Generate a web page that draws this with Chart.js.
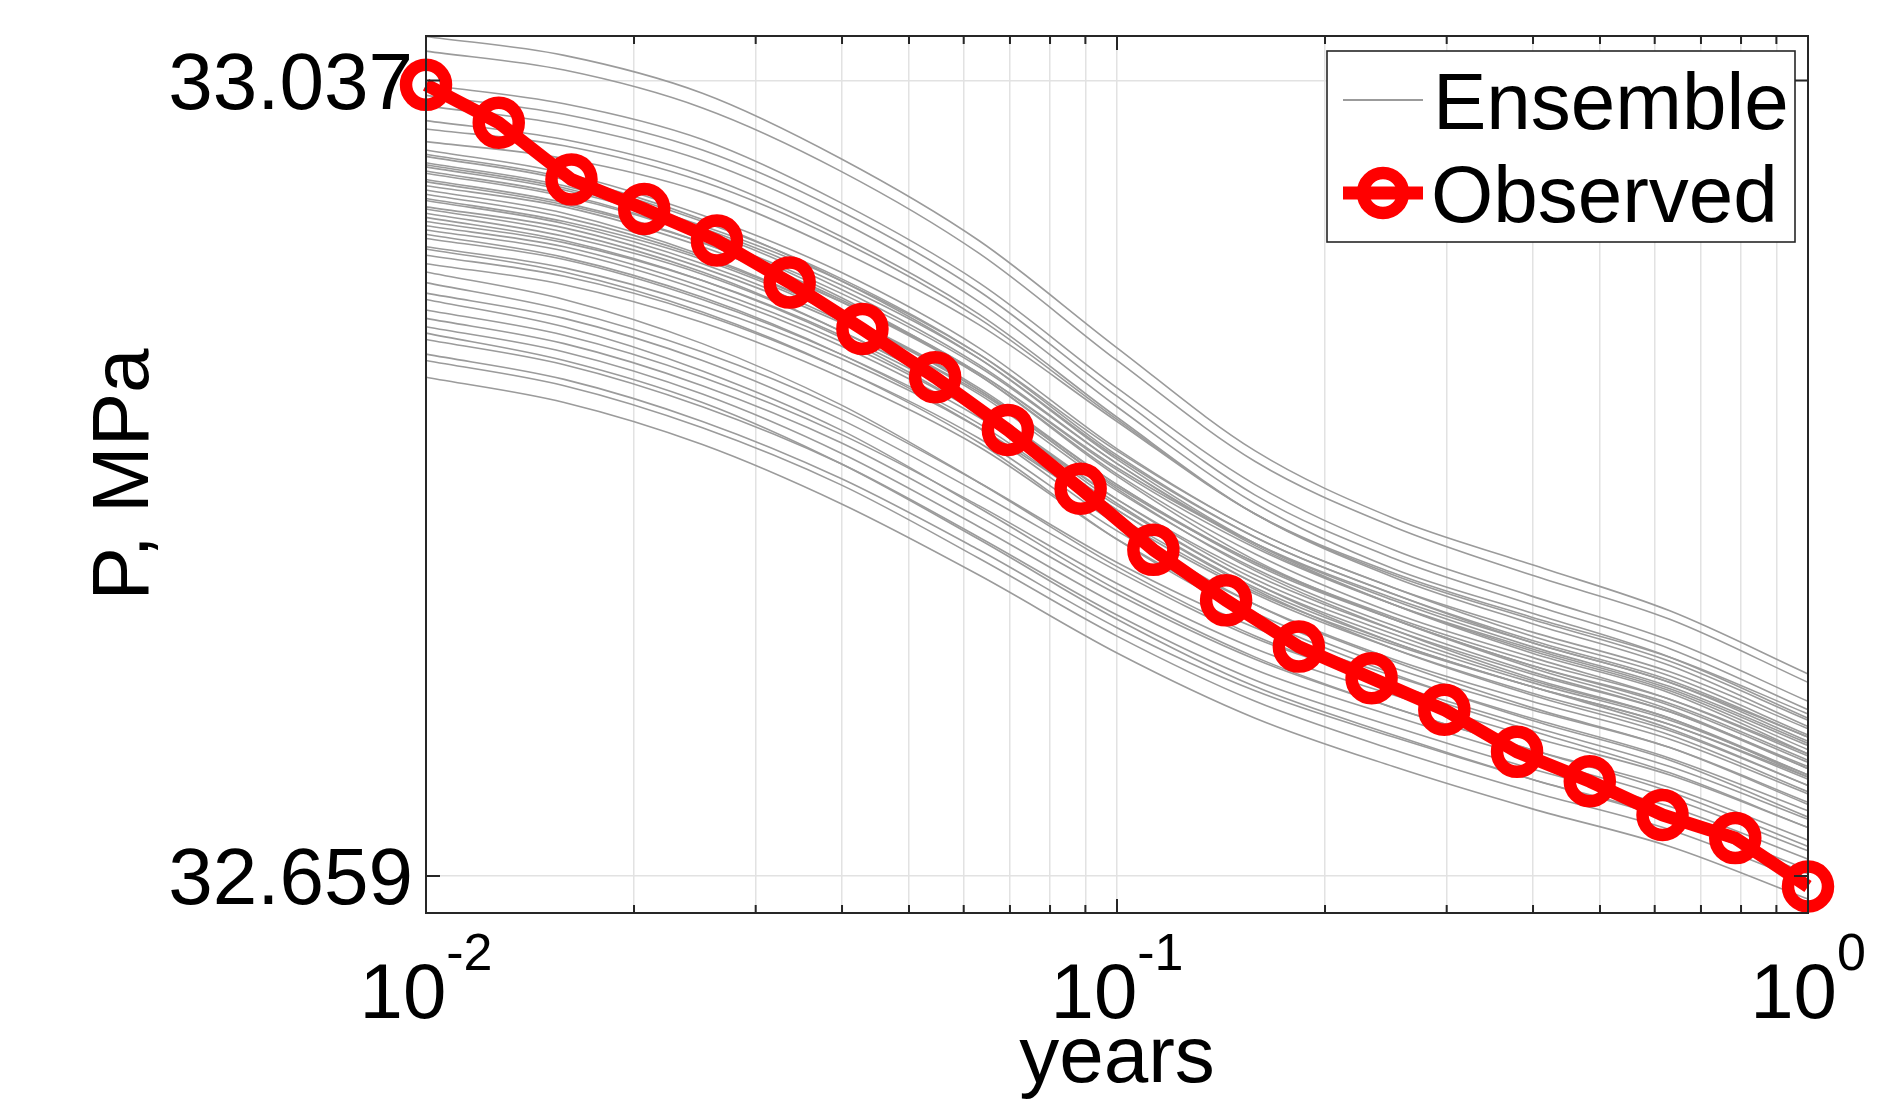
<!DOCTYPE html>
<html>
<head>
<meta charset="utf-8">
<script src="https://cdn.jsdelivr.net/npm/chart.js@4.4.1/dist/chart.umd.min.js"></script>
<style>
  html, body { margin: 0; padding: 0; background: #fff; }
  #wrap { width: 1882px; height: 1116px; }
</style>
</head>
<body>
<div id="wrap"><canvas id="pressureChart" width="1882" height="1116"></canvas></div>
<script>
// x in years, y in MPa
const ensembleX = [0.01, 0.01585, 0.02512, 0.03981, 0.0631, 0.1, 0.1585, 0.2512, 0.3981, 0.631, 1];

const ensembleRuns = [
    [33.058, 33.049, 33.031, 33.000, 32.961, 32.910, 32.861, 32.829, 32.807, 32.785, 32.755],
    [33.051, 33.042, 33.024, 32.994, 32.955, 32.904, 32.856, 32.825, 32.802, 32.781, 32.751],
    [33.035, 33.026, 33.009, 32.979, 32.941, 32.891, 32.845, 32.814, 32.792, 32.771, 32.742],
    [33.030, 33.021, 33.004, 32.975, 32.937, 32.887, 32.840, 32.810, 32.788, 32.767, 32.738],
    [33.025, 33.016, 32.999, 32.970, 32.932, 32.882, 32.836, 32.805, 32.784, 32.763, 32.734],
    [33.018, 33.009, 32.992, 32.963, 32.926, 32.877, 32.831, 32.801, 32.779, 32.759, 32.730],
    [33.014, 33.006, 32.989, 32.961, 32.924, 32.876, 32.831, 32.802, 32.781, 32.761, 32.733],
    [33.008, 33.000, 32.984, 32.956, 32.921, 32.875, 32.831, 32.803, 32.782, 32.763, 32.736],
    [33.004, 32.993, 32.973, 32.946, 32.910, 32.862, 32.823, 32.796, 32.773, 32.754, 32.726],
    [33.002, 32.991, 32.971, 32.942, 32.905, 32.857, 32.817, 32.788, 32.765, 32.746, 32.717],
    [33.001, 32.990, 32.970, 32.943, 32.907, 32.859, 32.820, 32.793, 32.770, 32.751, 32.723],
    [32.998, 32.987, 32.968, 32.942, 32.907, 32.861, 32.823, 32.796, 32.775, 32.756, 32.729],
    [32.997, 32.986, 32.967, 32.940, 32.905, 32.858, 32.820, 32.793, 32.771, 32.752, 32.725],
    [32.996, 32.985, 32.966, 32.938, 32.902, 32.855, 32.816, 32.788, 32.766, 32.747, 32.719],
    [32.994, 32.983, 32.963, 32.934, 32.897, 32.849, 32.809, 32.781, 32.758, 32.738, 32.710],
    [32.993, 32.982, 32.963, 32.936, 32.901, 32.855, 32.817, 32.790, 32.768, 32.749, 32.722],
    [32.990, 32.979, 32.960, 32.932, 32.897, 32.850, 32.812, 32.784, 32.763, 32.743, 32.716],
    [32.989, 32.978, 32.960, 32.933, 32.898, 32.852, 32.815, 32.788, 32.767, 32.748, 32.721],
    [32.987, 32.977, 32.958, 32.932, 32.898, 32.853, 32.817, 32.791, 32.770, 32.751, 32.725],
    [32.985, 32.974, 32.954, 32.926, 32.890, 32.843, 32.804, 32.776, 32.753, 32.734, 32.706],
    [32.983, 32.972, 32.953, 32.926, 32.891, 32.845, 32.808, 32.781, 32.759, 32.740, 32.713],
    [32.981, 32.970, 32.952, 32.925, 32.890, 32.845, 32.807, 32.781, 32.759, 32.741, 32.714],
    [32.980, 32.969, 32.950, 32.923, 32.888, 32.842, 32.805, 32.778, 32.756, 32.737, 32.710],
    [32.977, 32.967, 32.948, 32.922, 32.889, 32.844, 32.808, 32.782, 32.761, 32.743, 32.717],
    [32.976, 32.965, 32.946, 32.918, 32.883, 32.836, 32.798, 32.770, 32.749, 32.729, 32.702],
    [32.974, 32.963, 32.945, 32.918, 32.883, 32.838, 32.800, 32.774, 32.752, 32.734, 32.707],
    [32.972, 32.961, 32.942, 32.915, 32.879, 32.833, 32.795, 32.767, 32.745, 32.726, 32.699],
    [32.970, 32.960, 32.942, 32.916, 32.882, 32.838, 32.802, 32.776, 32.755, 32.737, 32.711],
    [32.968, 32.958, 32.939, 32.913, 32.879, 32.835, 32.798, 32.772, 32.751, 32.733, 32.707],
    [32.966, 32.956, 32.937, 32.911, 32.877, 32.833, 32.796, 32.770, 32.749, 32.731, 32.705],
    [32.964, 32.953, 32.934, 32.907, 32.872, 32.826, 32.788, 32.761, 32.739, 32.720, 32.693],
    [32.962, 32.952, 32.933, 32.907, 32.874, 32.829, 32.793, 32.767, 32.746, 32.728, 32.702],
    [32.958, 32.948, 32.930, 32.905, 32.872, 32.830, 32.794, 32.769, 32.749, 32.731, 32.706],
    [32.957, 32.946, 32.927, 32.900, 32.865, 32.819, 32.782, 32.755, 32.733, 32.714, 32.687],
    [32.954, 32.944, 32.926, 32.900, 32.867, 32.823, 32.788, 32.762, 32.742, 32.724, 32.698],
    [32.950, 32.940, 32.922, 32.896, 32.863, 32.819, 32.784, 32.758, 32.738, 32.720, 32.694],
    [32.946, 32.933, 32.912, 32.883, 32.846, 32.806, 32.773, 32.749, 32.728, 32.708, 32.682],
    [32.941, 32.928, 32.908, 32.881, 32.846, 32.808, 32.777, 32.754, 32.734, 32.715, 32.690],
    [32.936, 32.924, 32.904, 32.876, 32.841, 32.804, 32.772, 32.750, 32.730, 32.711, 32.686],
    [32.933, 32.920, 32.899, 32.871, 32.834, 32.795, 32.763, 32.739, 32.719, 32.699, 32.673],
    [32.928, 32.916, 32.896, 32.869, 32.835, 32.798, 32.767, 32.745, 32.725, 32.707, 32.682],
    [32.924, 32.912, 32.892, 32.865, 32.830, 32.793, 32.762, 32.739, 32.719, 32.701, 32.676],
    [32.920, 32.908, 32.888, 32.860, 32.825, 32.788, 32.757, 32.735, 32.715, 32.696, 32.671],
    [32.917, 32.904, 32.884, 32.855, 32.819, 32.781, 32.749, 32.726, 32.705, 32.686, 32.660],
    [32.914, 32.902, 32.882, 32.855, 32.820, 32.783, 32.752, 32.730, 32.710, 32.692, 32.667],
    [32.907, 32.895, 32.875, 32.848, 32.814, 32.777, 32.747, 32.725, 32.705, 32.687, 32.662],
    [32.904, 32.892, 32.872, 32.845, 32.810, 32.773, 32.742, 32.719, 32.699, 32.681, 32.656],
    [32.896, 32.884, 32.864, 32.836, 32.802, 32.765, 32.734, 32.711, 32.691, 32.673, 32.648]
];

const observedX = [0.01, 0.012743, 0.016238, 0.020691, 0.026367, 0.033598, 0.042813, 0.054556, 0.069519, 0.088587,
                   0.112884, 0.143845, 0.183298, 0.233572, 0.297635, 0.379269, 0.483293, 0.615848, 0.78476, 1.0];
const observedP = [33.035, 33.017, 32.990, 32.976, 32.961, 32.941, 32.919, 32.896, 32.871, 32.843,
                   32.814, 32.790, 32.768, 32.753, 32.738, 32.718, 32.704, 32.688, 32.677, 32.654];

const yTicks = [32.659, 33.037];
const xMajorTicks = [0.01, 0.1, 1];
const xMajorLabels = ['-2', '-1', '0'];
const xGridTicks = [0.01, 0.02, 0.03, 0.04, 0.05, 0.06, 0.07, 0.08, 0.09,
                    0.1, 0.2, 0.3, 0.4, 0.5, 0.6, 0.7, 0.8, 0.9, 1];

const FONT = '"Liberation Sans", Arial, Helvetica, sans-serif';
const GRAY = '#9b9b9b';
const RED = '#ff0000';

const datasets = ensembleRuns.map((run, i) => ({
    label: i === 0 ? 'Ensemble' : '',
    data: ensembleX.map((x, j) => ({ x: x, y: run[j] })),
    borderColor: GRAY,
    borderWidth: 1.6,
    pointRadius: 0,
    fill: false,
    cubicInterpolationMode: 'monotone',
    clip: false,
    order: 1
}));

// observed goes on top of the ensemble
datasets.push({
    label: 'Observed',
    data: observedX.map((x, j) => ({ x: x, y: observedP[j] })),
    borderColor: RED,
    borderWidth: 13,
    pointRadius: 20,
    pointBorderWidth: 12.5,
    pointBorderColor: RED,
    pointBackgroundColor: 'rgba(0,0,0,0)',
    tension: 0,
    fill: false,
    clip: false,
    order: 0
});

// axis labels, box, inward ticks and legend, drawn the MATLAB way
const matlabAxes = {
    id: 'matlabAxes',
    beforeDatasetsDraw(chart) {
        const ctx = chart.ctx;
        const xs = chart.scales.x, ys = chart.scales.y;
        const area = chart.chartArea;
        ctx.save();
        ctx.fillStyle = '#000';

        // y tick labels
        ctx.font = '80px ' + FONT;
        ctx.textAlign = 'right';
        ctx.textBaseline = 'alphabetic';
        yTicks.forEach(v => {
            ctx.fillText(v.toFixed(3), 413, ys.getPixelForValue(v) + 28);
        });

        // x tick labels 10^k
        ctx.textAlign = 'left';
        xMajorTicks.forEach((v, i) => {
            ctx.font = '78px ' + FONT;
            const wb = ctx.measureText('10').width;
            ctx.font = '52px ' + FONT;
            const we = ctx.measureText(xMajorLabels[i]).width;
            const x0 = xs.getPixelForValue(v) - (wb + we) / 2;
            ctx.font = '78px ' + FONT;
            ctx.fillText('10', x0, 1018);
            ctx.font = '52px ' + FONT;
            ctx.fillText(xMajorLabels[i], x0 + wb, 970);
        });

        // axis titles
        ctx.font = '80px ' + FONT;
        ctx.textAlign = 'center';
        ctx.fillText('years', (area.left + area.right) / 2, 1082);
        ctx.translate(148, (area.top + area.bottom) / 2);
        ctx.rotate(-Math.PI / 2);
        ctx.fillText('P, MPa', 0, 0);
        ctx.restore();
    },
    afterDatasetsDraw(chart) {
        const ctx = chart.ctx;
        const xs = chart.scales.x, ys = chart.scales.y;
        const a = chart.chartArea;
        ctx.save();
        ctx.strokeStyle = '#262626';
        ctx.lineWidth = 2;
        ctx.strokeRect(a.left, a.top, a.right - a.left, a.bottom - a.top);

        // inward ticks
        ctx.beginPath();
        xGridTicks.forEach(v => {
            const px = xs.getPixelForValue(v);
            const len = xMajorTicks.includes(v) ? 14 : 8;
            ctx.moveTo(px, a.bottom); ctx.lineTo(px, a.bottom - len);
            ctx.moveTo(px, a.top); ctx.lineTo(px, a.top + len);
        });
        yTicks.forEach(v => {
            const py = ys.getPixelForValue(v);
            ctx.moveTo(a.left, py); ctx.lineTo(a.left + 14, py);
            ctx.moveTo(a.right, py); ctx.lineTo(a.right - 14, py);
        });
        ctx.stroke();

        // legend
        const lx = 1327, ly = 51, lw = 468, lh = 191;
        ctx.fillStyle = '#fff';
        ctx.fillRect(lx, ly, lw, lh);
        ctx.strokeStyle = '#262626';
        ctx.lineWidth = 1.6;
        ctx.strokeRect(lx, ly, lw, lh);

        ctx.strokeStyle = GRAY;
        ctx.lineWidth = 2;
        ctx.beginPath();
        ctx.moveTo(1343, 100); ctx.lineTo(1423, 100);
        ctx.stroke();

        ctx.strokeStyle = RED;
        ctx.lineWidth = 13;
        ctx.beginPath();
        ctx.moveTo(1343, 193); ctx.lineTo(1423, 193);
        ctx.stroke();
        ctx.lineWidth = 12.5;
        ctx.beginPath();
        ctx.arc(1383, 193, 20, 0, Math.PI * 2);
        ctx.stroke();

        ctx.fillStyle = '#000';
        ctx.font = '80px ' + FONT;
        ctx.textAlign = 'left';
        ctx.textBaseline = 'alphabetic';
        ctx.fillText('Ensemble', 1433, 129);
        ctx.fillText('Observed', 1431, 222);
        ctx.restore();
    }
};

const ctx = document.getElementById('pressureChart').getContext('2d');
new Chart(ctx, {
    type: 'line',
    data: { datasets: datasets },
    plugins: [matlabAxes],
    options: {
        responsive: false,
        animation: false,
        events: [],
        layout: { padding: { left: 0, top: 36, right: 74, bottom: 0 } },
        plugins: { legend: { display: false }, tooltip: { enabled: false } },
        scales: {
            x: {
                type: 'logarithmic',
                min: 0.01,
                max: 1,
                border: { display: false },
                grid: { color: '#e2e2e2', lineWidth: 1.5, drawTicks: false },
                ticks: { display: false },
                afterBuildTicks: s => { s.ticks = xGridTicks.map(v => ({ value: v })); },
                afterFit: s => { s.height = 203; }
            },
            y: {
                type: 'linear',
                min: 32.6414,
                max: 33.0582,
                border: { display: false },
                grid: { color: '#e2e2e2', lineWidth: 1.5, drawTicks: false },
                ticks: { display: false },
                afterBuildTicks: s => { s.ticks = yTicks.map(v => ({ value: v })); },
                afterFit: s => { s.width = 426; }
            }
        }
    }
});
</script>
</body>
</html>
